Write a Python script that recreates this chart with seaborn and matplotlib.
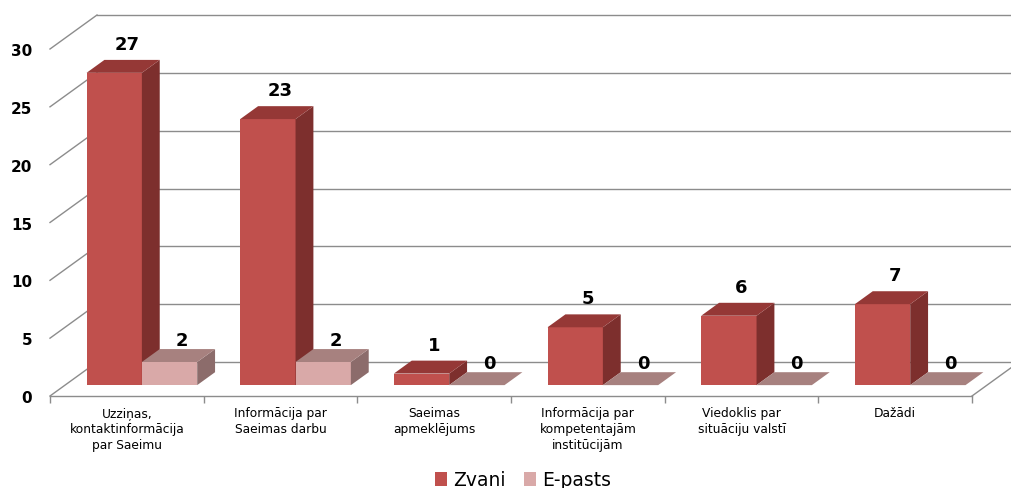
import numpy as np
import pandas as pd
import seaborn as sns
import matplotlib.pyplot as plt
from matplotlib.patches import Polygon, Patch

# data
categories = [
    "Uzziņas,\nkontaktinformācija\npar Saeimu",
    "Informācija par\nSaeimas darbu",
    "Saeimas\napmeklējums",
    "Informācija par\nkompetentajām\ninstitūcijām",
    "Viedoklis par\nsituāciju valstī",
    "Dažādi",
]
series = ["Zvani", "E-pasts"]
zvani = [27, 23, 1, 5, 6, 7]
epasts = [2, 2, 0, 0, 0, 0]
yticks = [0, 5, 10, 15, 20, 25, 30]

# colours: front / side / top for each series
front_cols = ["#C0504D", "#D9A9A8"]
side_cols = ["#7D2F2D", "#8C6C6B"]
top_cols = ["#953836", "#A7817F"]
grid_col = "#8C8C8C"
label_gap = [0.6, 0.0]   # value label offset above bar top, per series

df = pd.DataFrame({
    "cat": categories * 2,
    "val": zvani + epasts,
    "series": [series[0]] * len(categories) + [series[1]] * len(categories),
})

W, H = 1011, 489
fig = plt.figure(figsize=(W / 100, H / 100), dpi=100)
ax = fig.add_axes([50 / W, 92 / H, 922 / W, 347 / H])

sns.barplot(data=df, x="cat", y="val", hue="series", hue_order=series,
            palette=front_cols, saturation=1, width=0.72, ax=ax,
            legend=False, linewidth=0)
ax.set_xlim(-0.5, len(categories) - 0.5)
ax.set_ylim(0, 30)

# pseudo 3D depth: full wall depth in data units
DX = 47 / (922 / len(categories))
DY = 34 / (347 / 30)
F = 0.32   # depth of bar fronts
B = 0.38   # depth of bars

bars = [p for p in ax.patches]
n = len(categories)
for k, p in enumerate(bars):
    s = k // n
    x0 = p.get_x() + F * DX
    w = p.get_width()
    h = p.get_height()
    y0 = F * DY
    p.set_x(x0)
    p.set_y(y0)
    p.set_zorder(3 + s)
    p.set_clip_on(False)
    x1 = x0 + w
    bx, by = B * DX, B * DY
    side = Polygon([(x1, y0), (x1 + bx, y0 + by), (x1 + bx, y0 + h + by), (x1, y0 + h)],
                   closed=True, facecolor=side_cols[s], lw=0, zorder=3 + s, clip_on=False)
    top = Polygon([(x0, y0 + h), (x1, y0 + h), (x1 + bx, y0 + h + by), (x0 + bx, y0 + h + by)],
                  closed=True, facecolor=top_cols[s], lw=0, zorder=3 + s, clip_on=False)
    if h > 0:
        ax.add_patch(side)
    ax.add_patch(top)
    ax.text(x0 + w / 2 + 0.7 * bx, y0 + h + by + label_gap[s], f"{h:g}",
            ha="center", va="bottom", fontsize=13, fontweight="bold",
            color="black", zorder=6, clip_on=False)

# walls and floor
xl, xr = -0.5, n - 0.5
for v in yticks:
    ax.plot([xl, xl + DX], [v, v + DY], color=grid_col, lw=1, zorder=1, clip_on=False)
    ax.plot([xl + DX, xr + DX], [v + DY, v + DY], color=grid_col, lw=1, zorder=1, clip_on=False)
ax.plot([xl, xr], [0, 0], color=grid_col, lw=1, zorder=2, clip_on=False)
ax.plot([xr, xr + DX], [0, DY], color=grid_col, lw=1, zorder=2, clip_on=False)

for sp in ax.spines.values():
    sp.set_visible(False)
ax.set_xlabel("")
ax.set_ylabel("")
ax.set_yticks(yticks)
ax.set_yticklabels([str(v) for v in yticks], fontsize=11, fontweight="bold")
ax.tick_params(axis="y", length=0, pad=13)
ax.set_xticks(range(n))
ax.set_xticklabels(categories, fontsize=8.8, linespacing=1.3)
ax.tick_params(axis="x", length=0, pad=7)
ax.set_xticks(np.arange(-0.5, n, 1.0), minor=True)
ax.tick_params(axis="x", which="minor", length=5, color=grid_col, width=1)
ax.set_facecolor("none")

handles = [Patch(facecolor=front_cols[0]), Patch(facecolor=front_cols[1])]
fig.legend(handles, series, loc="center", bbox_to_anchor=(523 / W, 1 - 481 / H),
           ncol=2, frameon=False, fontsize=13.5, handlelength=0.65, handleheight=0.75,
           handletextpad=0.3, columnspacing=1.0)

fig.savefig("out.png", dpi=100)
